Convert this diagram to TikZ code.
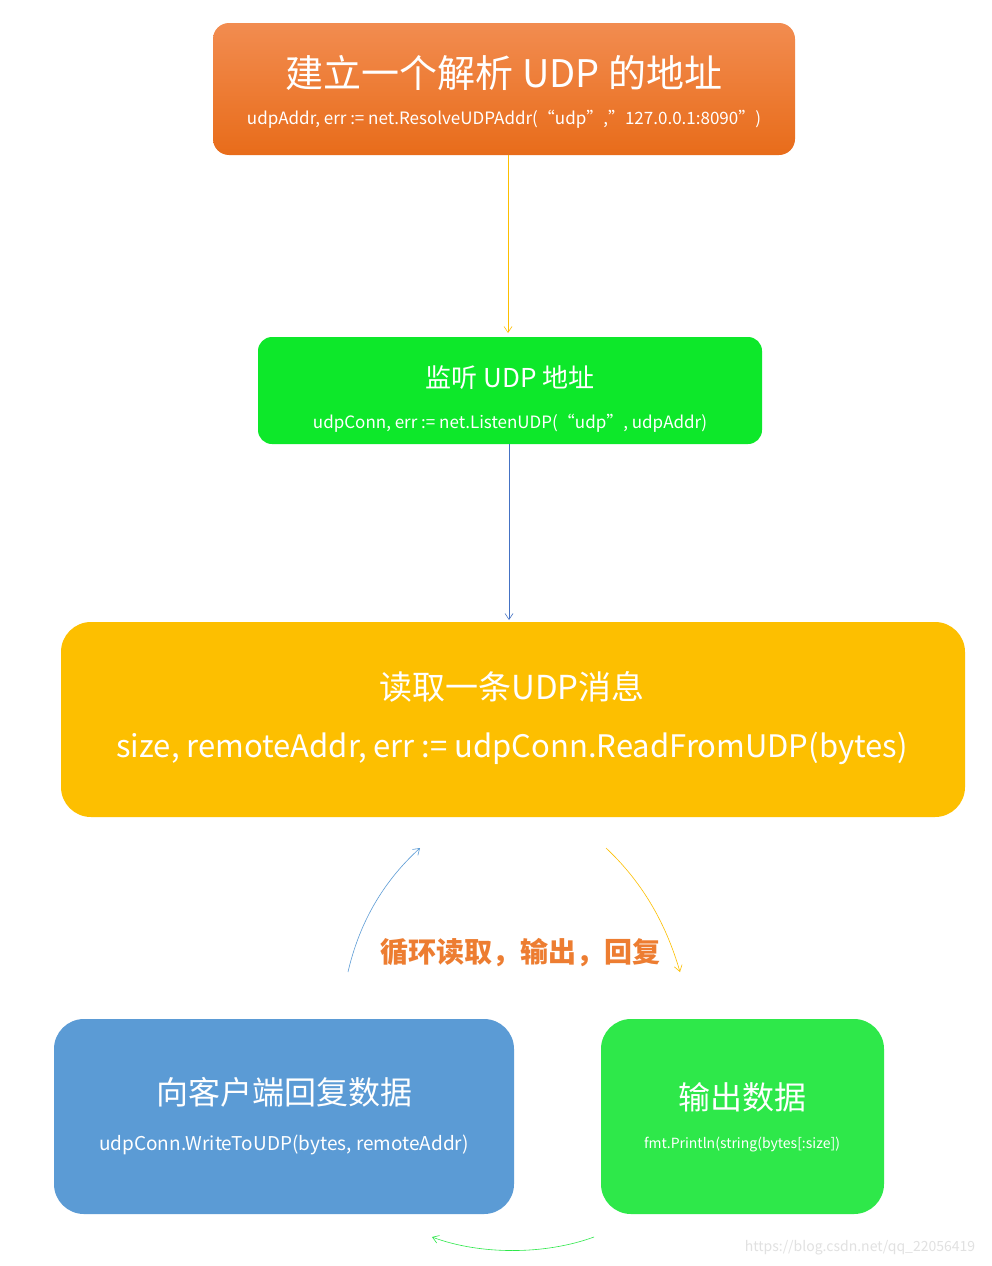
\documentclass[tikz,border=0pt]{standalone}
\usepackage{fontspec}
\setmainfont{Noto Sans CJK SC}
\usetikzlibrary{arrows.meta}
\definecolor{ttorange}{RGB}{237,125,49}
\definecolor{ttgreen}{RGB}{13,232,42}
\definecolor{ttyellow}{RGB}{253,191,0}
\definecolor{ttblue}{RGB}{91,155,213}
\definecolor{ttlime}{RGB}{46,232,74}
\definecolor{ttnavy}{RGB}{68,114,196}
\definecolor{ttgray}{RGB}{225,225,225}
\definecolor{tttop}{RGB}{242,140,80}
\definecolor{ttbot}{RGB}{232,108,26}
\tikzset{every picture/.style={line width=0.75pt}}
\tikzset{
  stepbox/.style={rounded corners=#1, draw=none},
  ttext/.style={text=white, inner sep=0pt, anchor=center},
  tarrow/.style={-{Straight Barb[length=6pt,width=8pt]}, line width=0.6pt}
}
\begin{document}
\begin{tikzpicture}[x=1pt,y=1pt,yscale=-1,xscale=1]
\useasboundingbox (0,0) rectangle (991,1266);
\fill[white] (0,0) rectangle (991,1266);

% boxes
\shade[stepbox=16, top color=tttop, bottom color=ttbot] (213,23) rectangle (795,155);
\fill[stepbox=14, ttgreen] (258,337) rectangle (762,444);
\fill[stepbox=30, ttyellow] (61,622) rectangle (965,817);
\fill[stepbox=30, ttblue] (54,1019) rectangle (514,1214);
\fill[stepbox=30, ttlime] (601,1019) rectangle (884,1214);

% texts
\node[ttext, font=\fontsize{38}{40}\selectfont] (t1) at (504,73) {建立一个解析 UDP 的地址};
\node[ttext, font=\fontsize{17}{19}\selectfont] (s1) at (504,119) {udpAddr, err := net.ResolveUDPAddr(“udp”,”127.0.0.1:8090”)};
\node[ttext, font=\fontsize{26}{28}\selectfont] (t2) at (510,378) {监听 UDP 地址};
\node[ttext, font=\fontsize{17}{19}\selectfont] (s2) at (510,423) {udpConn, err := net.ListenUDP(“udp”, udpAddr)};
\node[ttext, font=\fontsize{33}{35}\selectfont] (t3) at (512,687) {读取一条UDP消息};
\node[ttext, font=\fontsize{31}{33}\selectfont] (s3) at (512,748) {size, remoteAddr, err := udpConn.ReadFromUDP(bytes)};
\node[ttext, font=\fontsize{32}{34}\selectfont] (t4) at (284,1092) {向客户端回复数据};
\node[ttext, font=\fontsize{19}{21}\selectfont] (s4) at (284,1145) {udpConn.WriteToUDP(bytes, remoteAddr)};
\node[ttext, font=\fontsize{32}{34}\selectfont] (t5) at (742,1097) {输出数据};
\node[ttext, font=\fontsize{14}{16}\selectfont] (s5) at (742,1145) {fmt.Println(string(bytes[:size])};

% connectors
\coordinate (a1) at (508,155);
\coordinate (a2) at (508,333);
\coordinate (b1) at (509,444);
\coordinate (b2) at (509,620);
\draw[tarrow, ttyellow] (a1) -- (a2);
\draw[tarrow, ttnavy] (b1) -- (b2);

% loop
\coordinate (l1) at (348,972);
\coordinate (l2) at (420,848);
\coordinate (r1) at (606,848);
\coordinate (r2) at (680,972);
\coordinate (g1) at (594,1237);
\coordinate (g2) at (432,1237);
\draw[tarrow, ttblue] (l1) .. controls (360,920) and (385,880) .. (l2);
\draw[tarrow, ttyellow] (r1) .. controls (640,880) and (665,920) .. (r2);
\draw[tarrow, ttlime] (g1) .. controls (545,1255) and (480,1255) .. (g2);
\node[font=\fontsize{28}{30}\selectfont\bfseries, text=ttorange] (loop) at (520,953) {循环读取，输出，回复};

\node[text=ttgray, font=\fontsize{14}{16}\selectfont] (wm) at (860,1248) {https://blog.csdn.net/qq\_22056419};
\end{tikzpicture}
\end{document}
